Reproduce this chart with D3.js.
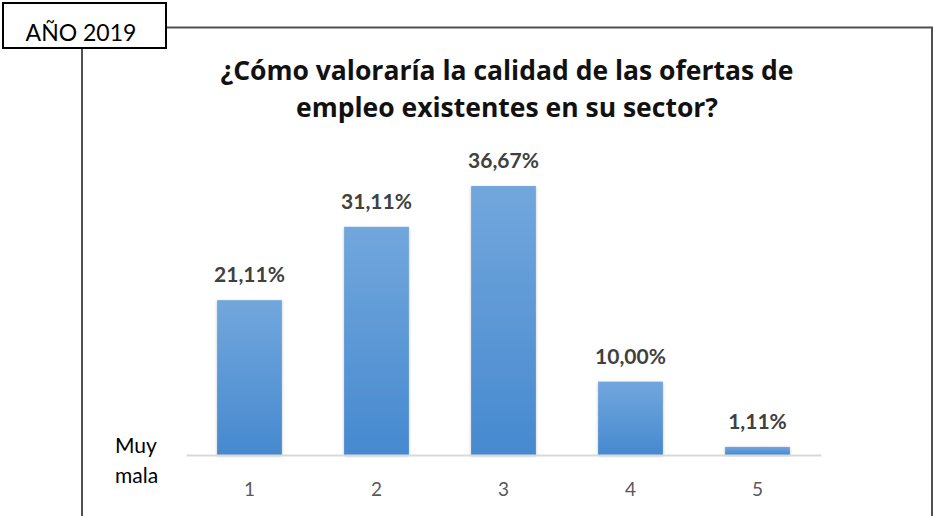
<!DOCTYPE html>
<meta charset="utf-8">
<script src="https://d3js.org/d3.v7.min.js"></script>
<style>
body { margin: 0; background: #fff; }
text { font-family: Lato, "Open Sans", sans-serif; }
</style>
<div id="my_dataviz"></div>
<script>

// data
var categories = ["1", "2", "3", "4", "5"];
var values = [21.11, 31.11, 36.67, 10.00, 1.11];
var valueLabels = ["21,11%", "31,11%", "36,67%", "10,00%", "1,11%"];
var titleLines = ["¿Cómo valoraría la calidad de las ofertas de", "empleo existentes en su sector?"];
var yearLabel = "AÑO 2019";
var lowLabel = ["Muy", "mala"];

var width = 933, height = 516;

var svg = d3.select("#my_dataviz")
  .append("svg")
    .attr("width", width)
    .attr("height", height);

// bar gradient + soft shadow
var defs = svg.append("defs");
var grad = defs.append("linearGradient")
  .attr("id", "barGrad")
  .attr("x1", 0).attr("y1", 0).attr("x2", 0).attr("y2", 1);
grad.append("stop").attr("offset", "0%").attr("stop-color", "#72a7dd");
grad.append("stop").attr("offset", "100%").attr("stop-color", "#4689cf");

var shadow = defs.append("filter").attr("id", "shadow")
  .attr("x", "-20%").attr("y", "-20%").attr("width", "140%").attr("height", "140%");
shadow.append("feDropShadow")
  .attr("dx", 0).attr("dy", 1).attr("stdDeviation", 1.5)
  .attr("flood-color", "#000").attr("flood-opacity", 0.25);

// frame around the chart
svg.append("path")
  .attr("d", "M166,27.5 H932 V516")
  .attr("fill", "none")
  .attr("stroke", "#505050")
  .attr("stroke-width", 2);
svg.append("line")
  .attr("x1", 82).attr("x2", 82)
  .attr("y1", 48).attr("y2", 516)
  .attr("stroke", "#505050")
  .attr("stroke-width", 2);

// year box
svg.append("rect")
  .attr("x", 3).attr("y", 3)
  .attr("width", 163).attr("height", 45)
  .attr("fill", "#fff")
  .attr("stroke", "#000")
  .attr("stroke-width", 2);
svg.append("text")
  .attr("x", 81).attr("y", 40.5)
  .attr("text-anchor", "middle")
  .style("font-size", "23px")
  .style("fill", "#000")
  .text(yearLabel);

// title
svg.selectAll("titleLines")
  .data(titleLines)
  .enter()
  .append("text")
    .attr("x", 507)
    .attr("y", function(d, i) { return 80 + i * 37; })
    .attr("text-anchor", "middle")
    .style("font-family", "'Open Sans', sans-serif")
    .style("font-size", "26.5px")
    .style("font-weight", "bold")
    .style("fill", "#111")
    .text(function(d) { return d; });

// scales
var x = d3.scaleBand()
  .domain(categories)
  .range([186, 821])
  .paddingInner(0.49)
  .paddingOuter(0.245);

var y = d3.scaleLinear()
  .domain([0, 40])
  .range([455, 161.6]);

// bars
svg.selectAll("myBars")
  .data(values)
  .enter()
  .append("rect")
    .attr("x", function(d, i) { return x(categories[i]); })
    .attr("y", function(d) { return y(d); })
    .attr("width", x.bandwidth())
    .attr("height", function(d) { return y(0) - y(d); })
    .attr("fill", "url(#barGrad)")
    .attr("filter", "url(#shadow)");

// x axis
var xAxis = svg.append("g")
  .attr("transform", "translate(0," + y(0) + ")")
  .call(d3.axisBottom(x).tickSize(0).tickPadding(28));
xAxis.select(".domain")
  .attr("stroke", "#d9d9d9")
  .attr("stroke-width", 2);
xAxis.selectAll("text")
  .style("font-family", "Lato, sans-serif")
  .style("font-size", "19px")
  .style("fill", "#595959");

// value labels
svg.selectAll("myLabels")
  .data(values)
  .enter()
  .append("text")
    .attr("x", function(d, i) { return x(categories[i]) + x.bandwidth() / 2; })
    .attr("y", function(d) { return y(d) - 18; })
    .attr("text-anchor", "middle")
    .style("font-size", "21px")
    .style("font-weight", "bold")
    .style("fill", "#404040")
    .text(function(d, i) { return valueLabels[i]; });

// "Muy mala" label
svg.selectAll("lowLabel")
  .data(lowLabel)
  .enter()
  .append("text")
    .attr("x", 115)
    .attr("y", function(d, i) { return 453 + i * 30; })
    .style("font-size", "21px")
    .style("fill", "#000")
    .text(function(d) { return d; });

</script>
